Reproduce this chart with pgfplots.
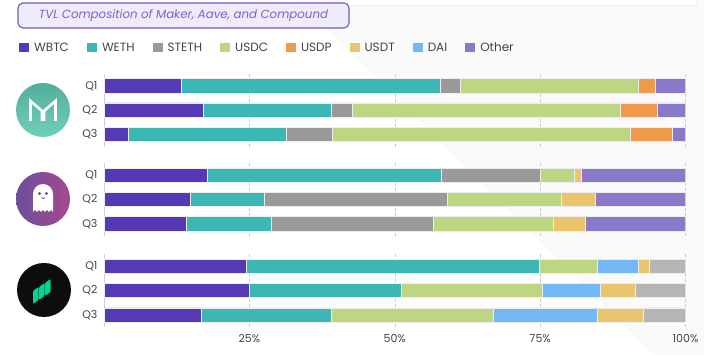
\documentclass[border=0pt]{standalone}
\usepackage{pgfplots}
\pgfplotsset{compat=1.18}
\usepackage{fontspec}
\setmainfont{Poppins}
\definecolor{cWBTC}{HTML}{5639B5}
\definecolor{cWETH}{HTML}{3DB6B6}
\definecolor{cSTETH}{HTML}{999999}
\definecolor{cUSDC}{HTML}{BED583}
\definecolor{cUSDP}{HTML}{F0984C}
\definecolor{cUSDT}{HTML}{EBC56E}
\definecolor{cDAI}{HTML}{73B8F5}
\definecolor{cOther}{HTML}{8A79C9}
\definecolor{cOtherC}{HTML}{B5B5B5}
\definecolor{lav}{HTML}{D2CBF0}
\definecolor{tborder}{HTML}{7257C9}
\definecolor{tfill}{HTML}{EFEBFB}
\definecolor{ttext}{HTML}{7B62C8}
\definecolor{sepc}{HTML}{EDEDED}
\definecolor{bgg}{HTML}{FAFAFA}
\definecolor{mtop}{HTML}{52AE9A}
\definecolor{mbot}{HTML}{70CFB9}
\definecolor{aleft}{HTML}{6A4E9C}
\definecolor{aright}{HTML}{A7498D}
\definecolor{cgreen}{HTML}{00D395}
\definecolor{labc}{HTML}{444444}
\pgfplotsset{
  panel/.style={
    scale only axis, width=581.5pt, height=72.9pt,
    xmin=0, xmax=100, ymin=-0.5, ymax=2.5, y dir=reverse,
    xbar stacked, bar width=14.2pt,
    ytick={0,1,2}, yticklabels={Q1,Q2,Q3},
    xtick={0,25,50,75,100},
    xmajorgrids, major grid style={densely dashed, black!20, line width=0.5pt},
    axis x line*=bottom, x axis line style={draw=none},
    axis y line*=left, y axis line style={draw=lav, line width=0.9pt},
    major tick length=0pt,
    /pgf/number format/assume math mode=true,
    tick label style={font=\fontsize{11}{13}\selectfont, text=labc},
    yticklabel style={xshift=-3pt},
    xticklabel style={yshift=-4pt},
    every axis plot/.append style={draw=sepc, line width=0.5pt},
  },
}
\begin{document}
\begin{tikzpicture}[x=1pt,y=1pt]
\useasboundingbox (0,0) rectangle (704,355);
\fill[white] (0,0) rectangle (704,355);
\fill[bgg] (299,355) -- (704,355) -- (704,0) -- (654,0) -- cycle;
\fill[black!4] (343,348) rectangle (697,355);
\fill[white] (343,349.5) rectangle (696,355);
% title
\node[draw=tborder, fill=tfill, rounded corners=5pt, line width=1.1pt,
  minimum width=331pt, minimum height=25pt, text=ttext,
  font=\itshape\fontsize{11.8}{13}\selectfont] at (183.5,339.5)
  {TVL Composition of Maker, Aave, and Compound};
% Maker logo
\shade[top color=mtop, bottom color=mbot] (43,245) circle (27);
\draw[white, line width=2.6pt, line join=miter] (30.5,234) -- (30.5,254) -- (42,244) -- (42,234);
\draw[white, line width=2.6pt, line join=miter] (44,234) -- (44,244) -- (55.5,254) -- (55.5,234);
% Aave logo
\shade[left color=aleft, right color=aright] (43,156) circle (27);
\fill[white] (33,143) -- (33,161) arc (180:0:10) -- (53,143) -- (51,145) -- (49,143) -- (47,145) -- (45,143) -- (43,145) -- (41,143) -- (39,145) -- (37,143) -- (35,145) -- cycle;
\fill[aleft] (39.5,161.5) circle (1.6);
\fill[aleft] (46.5,161.5) circle (1.6);
\draw[aleft, line width=0.8pt] (41.5,157.5) arc (200:340:1.7);
% Compound logo
\fill[black!95] (44,65) circle (27);
\foreach \i in {0,1,2} {
  \fill[cgreen, rounded corners=1pt] (33+\i*6,51+\i*4) -- (33+\i*6,64+\i*4) -- (38.5+\i*6,68+\i*4) -- (38.5+\i*6,55+\i*4) -- cycle;
}
% Maker panel
\begin{axis}[panel, at={(104pt,281.35pt)}, anchor=north west, xticklabels={},
  legend columns=8,
  legend image code/.code={\fill[#1] (0pt,-4.5pt) rectangle (10pt,4.5pt);},
  legend style={draw=none, fill=none, inner sep=0pt,
    at={(axis description cs:-0.1462,1.352)}, anchor=west,
    font=\fontsize{12}{14}\selectfont, text=labc,
    /tikz/every odd column/.append style={column sep=3pt},
    /tikz/every even column/.append style={column sep=16pt}},
  legend cell align=left]
\addlegendimage{fill=cWBTC, draw=none}
\addlegendimage{fill=cWETH, draw=none}
\addlegendimage{fill=cSTETH, draw=none}
\addlegendimage{fill=cUSDC, draw=none}
\addlegendimage{fill=cUSDP, draw=none}
\addlegendimage{fill=cUSDT, draw=none}
\addlegendimage{fill=cDAI, draw=none}
\addlegendimage{fill=cOther, draw=none}
\legend{WBTC,WETH,STETH,USDC,USDP,USDT,DAI,Other}
\addplot[fill=cWBTC, forget plot] coordinates {(13.3,0) (17.0,1) (4.2,2)};
\addplot[fill=cWETH, forget plot] coordinates {(44.6,0) (22.0,1) (27.2,2)};
\addplot[fill=cSTETH, forget plot] coordinates {(3.3,0) (3.7,1) (7.9,2)};
\addplot[fill=cUSDC, forget plot] coordinates {(30.6,0) (46.1,1) (51.2,2)};
\addplot[fill=cUSDP, forget plot] coordinates {(3.0,0) (6.3,1) (7.2,2)};
\addplot[fill=cOther, forget plot] coordinates {(5.2,0) (4.9,1) (2.3,2)};
\end{axis}
% Aave panel
\begin{axis}[panel, at={(104pt,191.95pt)}, anchor=north west, xticklabels={}]
\addplot[fill=cWBTC] coordinates {(17.8,0) (14.9,1) (14.2,2)};
\addplot[fill=cWETH] coordinates {(40.2,0) (12.6,1) (14.5,2)};
\addplot[fill=cSTETH] coordinates {(17.0,0) (31.6,1) (27.9,2)};
\addplot[fill=cUSDC] coordinates {(5.8,0) (19.5,1) (20.7,2)};
\addplot[fill=cUSDT] coordinates {(1.2,0) (5.8,1) (5.5,2)};
\addplot[fill=cOther] coordinates {(18.0,0) (15.6,1) (17.2,2)};
\end{axis}
% Compound panel
\begin{axis}[panel, at={(104pt,100.85pt)}, anchor=north west,
  xticklabels={,25\%,50\%,75\%,100\%}]
\addplot[fill=cWBTC] coordinates {(24.5,0) (24.9,1) (16.7,2)};
\addplot[fill=cWETH] coordinates {(50.4,0) (26.2,1) (22.4,2)};
\addplot[fill=cUSDC] coordinates {(10.0,0) (24.2,1) (27.8,2)};
\addplot[fill=cDAI] coordinates {(6.9,0) (10.1,1) (18.0,2)};
\addplot[fill=cUSDT] coordinates {(1.9,0) (6.0,1) (7.8,2)};
\addplot[fill=cOtherC] coordinates {(6.3,0) (8.6,1) (7.3,2)};
\end{axis}
\end{tikzpicture}
\end{document}
